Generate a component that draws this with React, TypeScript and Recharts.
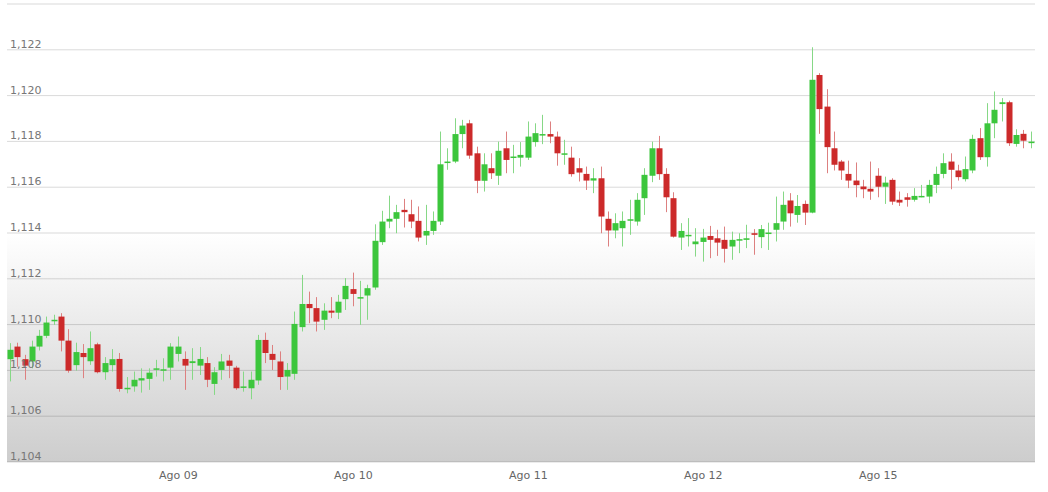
import React from "react";

import { Bar, CartesianGrid, ComposedChart, XAxis, YAxis } from "recharts";

// hourly candles, Aug 08 01:00 .. Aug 15 21:00 (weekend skipped)
const days = ["08", "09", "10", "11", "12", "15"];
const firstHour = [1, 0, 0, 0, 0, 0];
const lastHour = [23, 23, 23, 23, 23, 21];

const opens = [
  1.10849, 1.10904, 1.10849, 1.10839, 1.10904, 1.10951, 1.11017, 1.11035, 1.1093, 1.10823,
  1.10876, 1.1084, 1.10914, 1.10792, 1.10823, 1.1085, 1.10722, 1.1073, 1.10756, 1.10763,
  1.10807, 1.10803, 1.10812, 1.10872, 1.1085, 1.10832, 1.10821, 1.10832, 1.10741, 1.10802,
  1.10843, 1.10812, 1.10728, 1.10722, 1.10756, 1.10933, 1.10872, 1.10839, 1.10773, 1.10785,
  1.10989, 1.1109, 1.11072, 1.11021, 1.11061, 1.11052, 1.11111, 1.11155, 1.11118, 1.11127,
  1.11162, 1.1136, 1.1145, 1.11462, 1.11501, 1.11482, 1.11453, 1.11389, 1.11409, 1.1145,
  1.11708, 1.11712, 1.11832, 1.11879, 1.11748, 1.11628, 1.11683, 1.1165, 1.1177, 1.11731,
  1.11729, 1.11729, 1.11797, 1.11829, 1.11832, 1.11821, 1.11746, 1.11729, 1.11683, 1.11658,
  1.11629, 1.11639, 1.11462, 1.11411, 1.11421, 1.11458, 1.1145, 1.11552, 1.1165, 1.1177,
  1.11658, 1.11552, 1.1138, 1.1139, 1.11351, 1.11361, 1.11387, 1.11377, 1.1137, 1.11341,
  1.11372, 1.1137, 1.11399, 1.11382, 1.114, 1.11414, 1.1145, 1.11542, 1.11479, 1.11527,
  1.11489, 1.1209, 1.11952, 1.1177, 1.11712, 1.11658, 1.11629, 1.11603, 1.11593, 1.1165,
  1.11602, 1.11632, 1.11545, 1.11556, 1.11545, 1.1156, 1.11559, 1.1161, 1.11658, 1.11712,
  1.11673, 1.11635, 1.11673, 1.11814, 1.11731, 1.11879, 1.11963, 1.11971, 1.11789, 1.11833,
  1.11798,
];

const highs = [
  1.10919, 1.10921, 1.10868, 1.1093, 1.10977, 1.11035, 1.11043, 1.1105, 1.1098, 1.10921,
  1.10915, 1.1097, 1.10921, 1.10858, 1.10893, 1.10876, 1.10771, 1.10795, 1.10809, 1.10809,
  1.10846, 1.10853, 1.10919, 1.10948, 1.10883, 1.10897, 1.10902, 1.10858, 1.10814, 1.10872,
  1.10868, 1.1082, 1.10795, 1.10795, 1.10955, 1.10965, 1.10911, 1.10883, 1.10832, 1.11057,
  1.11217, 1.11144, 1.1112, 1.11093, 1.1112, 1.1113, 1.11203, 1.11227, 1.11191, 1.11174,
  1.11438, 1.11497, 1.11563, 1.11523, 1.11549, 1.11545, 1.11516, 1.11523, 1.11494, 1.11843,
  1.1177, 1.11901, 1.11894, 1.11894, 1.11777, 1.11748, 1.11748, 1.11799, 1.11843, 1.11785,
  1.11797, 1.11887, 1.11879, 1.11916, 1.11887, 1.11843, 1.11807, 1.11777, 1.11727, 1.1169,
  1.11683, 1.1169, 1.11494, 1.11486, 1.11494, 1.11545, 1.11574, 1.11683, 1.11799, 1.11824,
  1.11683, 1.11578, 1.11443, 1.11465, 1.11421, 1.11418, 1.11431, 1.11414, 1.11428, 1.11406,
  1.11399, 1.11436, 1.11417, 1.11435, 1.11445, 1.11559, 1.11581, 1.11574, 1.11566, 1.11542,
  1.12211, 1.12098, 1.12028, 1.11843, 1.11719, 1.11716, 1.11708, 1.11632, 1.11712, 1.11683,
  1.11646, 1.11639, 1.11581, 1.11574, 1.11596, 1.1161, 1.11632, 1.1169, 1.11748, 1.11748,
  1.11698, 1.11734, 1.11829, 1.11858, 1.11967, 1.12018, 1.11989, 1.11978, 1.11853, 1.1185,
  1.11843,
];

const lows = [
  1.10752, 1.10816, 1.10759, 1.10809, 1.10887, 1.10941, 1.10999, 1.10883, 1.1079, 1.10799,
  1.10766, 1.10824, 1.10787, 1.10759, 1.10795, 1.10707, 1.107, 1.10707, 1.10703, 1.10715,
  1.10773, 1.10752, 1.10759, 1.10839, 1.10715, 1.10759, 1.1078, 1.10727, 1.10693, 1.10759,
  1.10766, 1.10715, 1.10707, 1.10674, 1.10737, 1.10832, 1.10802, 1.10715, 1.10715, 1.10759,
  1.1097, 1.11006, 1.1097, 1.10977, 1.11028, 1.11024, 1.11064, 1.1108, 1.10999, 1.11021,
  1.11152, 1.11348, 1.11421, 1.11399, 1.11424, 1.11421, 1.11363, 1.11348, 1.11392, 1.11435,
  1.11676, 1.11705, 1.1177, 1.11724, 1.11574, 1.11581, 1.11636, 1.1161, 1.11661, 1.11661,
  1.1169, 1.11719, 1.11777, 1.11788, 1.11792, 1.11694, 1.11698, 1.11646, 1.11625, 1.11588,
  1.11574, 1.11399, 1.11341, 1.11377, 1.11341, 1.11392, 1.11432, 1.11479, 1.11622, 1.11632,
  1.11491, 1.1138, 1.11326, 1.11341, 1.11297, 1.11275, 1.1129, 1.113, 1.11271, 1.11283,
  1.11312, 1.11334, 1.11305, 1.11334, 1.11326, 1.11363, 1.11414, 1.11428, 1.11445, 1.11435,
  1.11486, 1.11833, 1.11661, 1.11673, 1.11632, 1.11596, 1.11556, 1.11552, 1.11545, 1.11556,
  1.11527, 1.11523, 1.11518, 1.11515, 1.11537, 1.11556, 1.1153, 1.11574, 1.11639, 1.11591,
  1.11629, 1.11625, 1.11661, 1.11719, 1.1169, 1.11814, 1.11887, 1.1178, 1.11777, 1.1177,
  1.1177,
];

const closes = [
  1.1089, 1.10858, 1.10821, 1.10904, 1.10951, 1.11009, 1.11021, 1.1093, 1.10799, 1.1088,
  1.10858, 1.10897, 1.10792, 1.10832, 1.10849, 1.10719, 1.10724, 1.10759, 1.10766, 1.1079,
  1.10809, 1.10805, 1.10904, 1.10904, 1.10821, 1.1084, 1.1085, 1.10759, 1.10792, 1.10839,
  1.1082, 1.10722, 1.1073, 1.10759, 1.10933, 1.10876, 1.10846, 1.10771, 1.10802, 1.11003,
  1.1109, 1.11072, 1.11013, 1.11061, 1.11052, 1.111, 1.11169, 1.11134, 1.1112, 1.11159,
  1.11366, 1.1145, 1.11462, 1.11491, 1.11491, 1.1145, 1.1138, 1.11409, 1.11453, 1.117,
  1.11712, 1.11832, 1.11869, 1.11738, 1.11628, 1.117, 1.11661, 1.11759, 1.11719, 1.11734,
  1.11741, 1.11821, 1.11836, 1.11832, 1.11821, 1.11748, 1.11748, 1.11657, 1.11664, 1.11629,
  1.11639, 1.11472, 1.11411, 1.11443, 1.11453, 1.1146, 1.11545, 1.11654, 1.1177, 1.11657,
  1.11556, 1.11384, 1.11409, 1.11392, 1.11363, 1.1138, 1.1137, 1.11358, 1.11331, 1.1137,
  1.11373, 1.11377, 1.11392, 1.11417, 1.11402, 1.11443, 1.11523, 1.11486, 1.11518, 1.11489,
  1.12069, 1.11941, 1.11775, 1.11698, 1.11673, 1.11629, 1.11609, 1.11591, 1.11581, 1.11602,
  1.1162, 1.11537, 1.11533, 1.11545, 1.11562, 1.11562, 1.1161, 1.11658, 1.11705, 1.11676,
  1.11644, 1.11679, 1.11811, 1.11731, 1.11879, 1.11938, 1.11971, 1.11792, 1.11828, 1.11803,
  1.11799,
];

const priceTicks = [1.104, 1.106, 1.108, 1.11, 1.112, 1.114, 1.116, 1.118, 1.12, 1.122, 1.124];
const dayTicks = ["09 00:00", "10 00:00", "11 00:00", "12 00:00", "15 00:00"];
const dayLabels = ["Ago 09", "Ago 10", "Ago 11", "Ago 12", "Ago 15"];

const times: string[] = [];
days.forEach((d, k) => {
  for (let h = firstHour[k]; h <= lastHour[k]; h++) {
    times.push(`${d} ${String(h).padStart(2, "0")}:00`);
  }
});

const data = times.map((t, i) => ({
  t,
  open: opens[i],
  high: highs[i],
  low: lows[i],
  close: closes[i],
  range: [lows[i], highs[i]],
}));

const UP = "#3cc63c";
const DOWN = "#cc2a2a";
const FONT = "'DejaVu Sans', Verdana, sans-serif";

const Candle = (props: any) => {
  const { x, y, width, height, payload } = props;
  if (!payload) return null;
  const { open, close, high, low } = payload;
  const top = Math.min(y, y + height);
  const span = Math.abs(height);
  const k = span / (high - low);
  const toY = (v: number) => top + (high - v) * k;
  const up = close >= open;
  const cx = Math.floor(x + width / 2) + 0.5;
  const bTop = toY(Math.max(open, close));
  const bH = Math.max(1.5, Math.abs(toY(open) - toY(close)));
  return (
    <g>
      <line x1={cx} x2={cx} y1={top} y2={top + span} stroke={up ? "#86d886" : "#dd8080"} strokeWidth={1} />
      <rect x={cx - 3} y={bTop} width={6} height={bH} fill={up ? UP : DOWN} />
    </g>
  );
};

const PriceTick = (props: any) => {
  const { x, y, payload } = props;
  if (payload.value >= 1.124) return null;
  return (
    <text x={x} y={y - 2} fill="#777" fontSize={11} fontFamily={FONT} textAnchor="start">
      {payload.value.toFixed(3).replace(".", ",")}
    </text>
  );
};

const DayTick = (props: any) => {
  const { x, y, payload } = props;
  const i = dayTicks.indexOf(payload.value);
  return (
    <text x={x} y={y + 9} fill="#666" fontSize={11} fontFamily={FONT} textAnchor="middle">
      {i >= 0 ? dayLabels[i] : ""}
    </text>
  );
};

const App = () => {
  return (
    <div style={{ position: "absolute", left: 0, top: 0 }}>
      <ComposedChart
        width={1048}
        height={492}
        data={data}
        margin={{ top: 4, right: 13, left: 7, bottom: 0 }}
        barCategoryGap={1}
      >
        <defs>
          <linearGradient id="plotBg" x1="0" y1="0" x2="0" y2="1">
            <stop offset="0" stopColor="#ffffff" />
            <stop offset="0.5" stopColor="#ffffff" />
            <stop offset="1" stopColor="#cdcdcd" />
          </linearGradient>
        </defs>
        <CartesianGrid vertical={false} fill="url(#plotBg)" stroke="#000" strokeOpacity={0.15} />
        <XAxis
          dataKey="t"
          ticks={dayTicks}
          interval={0}
          tick={<DayTick />}
          tickLine={false}
          axisLine={false}
          height={30}
        />
        <YAxis
          type="number"
          domain={[1.104, 1.124]}
          ticks={priceTicks}
          allowDataOverflow
          mirror
          tick={<PriceTick />}
          tickLine={false}
          axisLine={false}
          tickMargin={3}
          tickSize={0}
        />
        <Bar dataKey="range" shape={<Candle />} isAnimationActive={false} />
      </ComposedChart>
    </div>
  );
};

export default App;
